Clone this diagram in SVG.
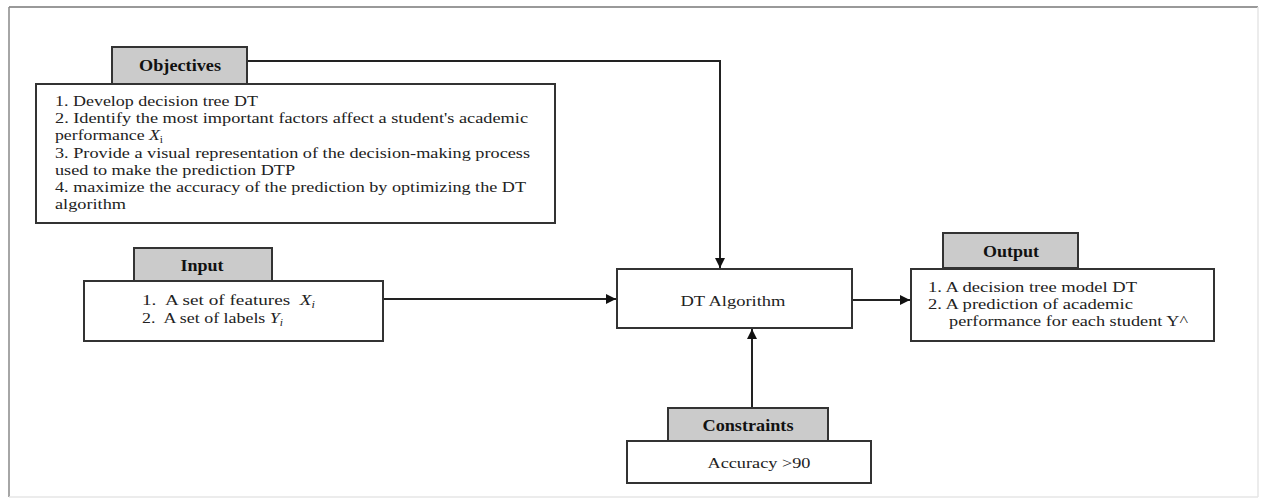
<svg xmlns="http://www.w3.org/2000/svg" width="1264" height="501" viewBox="0 0 1264 501">
<defs>
<style>
.box{fill:#ffffff;stroke:#333333;stroke-width:2}
.tab{fill:#cbcbcb;stroke:#333333;stroke-width:2}
.t{font-family:"Liberation Serif","Times New Roman",serif;font-size:15.5px;fill:#222222;white-space:pre}
.h{font-family:"Liberation Serif","Times New Roman",serif;font-size:16px;font-weight:bold;fill:#111111;text-anchor:middle}
.c{fill:none;stroke:#222222;stroke-width:2}
</style>
<marker id="arr" viewBox="0 0 10 10" refX="10" refY="5" markerWidth="10" markerHeight="10" markerUnits="userSpaceOnUse" orient="auto">
<path d="M0,0 L10,5 L0,10 Z" fill="#111111"/>
</marker>
</defs>
<rect x="0" y="0" width="1264" height="501" fill="#ffffff"/>
<g id="frame">
<line x1="9" y1="7" x2="1258" y2="7" stroke="#777777" stroke-width="1.5"/>
<line x1="9" y1="7" x2="9" y2="497" stroke="#888888" stroke-width="1.5"/>
<line x1="1258" y1="7" x2="1258" y2="497" stroke="#e6e6e6" stroke-width="1.5"/>
<line x1="9" y1="497" x2="1258" y2="497" stroke="#e6e6e6" stroke-width="1.5"/>
</g>
<g id="connectors">
<polyline class="c" points="247,61 720,61 720,268" marker-end="url(#arr)"/>
<line class="c" x1="383" y1="299" x2="616" y2="299" marker-end="url(#arr)"/>
<line class="c" x1="852" y1="300" x2="910" y2="300" marker-end="url(#arr)"/>
<line class="c" x1="752" y1="408" x2="752" y2="329" marker-end="url(#arr)"/>
</g>
<g id="objectives">
<rect class="tab" x="112" y="47" width="135" height="37"/>
<text class="h" x="180" y="71" textLength="82" lengthAdjust="spacingAndGlyphs">Objectives</text>
<rect class="box" x="36" y="84" width="519" height="139"/>
<text class="t" x="55" y="106" textLength="203" lengthAdjust="spacingAndGlyphs">1. Develop decision tree DT</text>
<text class="t" x="55" y="123" textLength="473" lengthAdjust="spacingAndGlyphs">2. Identify the most important factors affect a student's academic</text>
<text class="t" x="55" y="140" textLength="108" lengthAdjust="spacingAndGlyphs">performance <tspan font-style="italic">X</tspan><tspan font-size="10" dy="3">i</tspan></text>
<text class="t" x="55" y="158" textLength="475" lengthAdjust="spacingAndGlyphs">3. Provide a visual representation of the decision-making process</text>
<text class="t" x="55" y="175" textLength="240" lengthAdjust="spacingAndGlyphs">used to make the prediction DTP</text>
<text class="t" x="55" y="192" textLength="471" lengthAdjust="spacingAndGlyphs">4. maximize the accuracy of the prediction by optimizing the DT</text>
<text class="t" x="55" y="209" textLength="71" lengthAdjust="spacingAndGlyphs">algorithm</text>
</g>
<g id="input">
<rect class="tab" x="134" y="248" width="138" height="33"/>
<text class="h" x="202" y="271" textLength="43" lengthAdjust="spacingAndGlyphs">Input</text>
<rect class="box" x="84" y="281" width="299" height="60"/>
<text class="t" x="142" y="305" textLength="173" lengthAdjust="spacingAndGlyphs">1.  A set of features  <tspan font-style="italic">X</tspan><tspan font-size="10" font-style="italic" dy="3">i</tspan></text>
<text class="t" x="142" y="323" textLength="141" lengthAdjust="spacingAndGlyphs">2.  A set of labels <tspan font-style="italic">Y</tspan><tspan font-size="10" font-style="italic" dy="3">i</tspan></text>
</g>
<g id="dt-algorithm">
<rect class="box" x="617" y="269" width="235" height="59"/>
<text class="t" x="733" y="306" text-anchor="middle" textLength="105" lengthAdjust="spacingAndGlyphs">DT Algorithm</text>
</g>
<g id="output">
<rect class="tab" x="943" y="233" width="135" height="35"/>
<text class="h" x="1011" y="257" textLength="56" lengthAdjust="spacingAndGlyphs">Output</text>
<rect class="box" x="911" y="269" width="303" height="72"/>
<text class="t" x="928" y="292" textLength="209" lengthAdjust="spacingAndGlyphs">1. A decision tree model DT</text>
<text class="t" x="928" y="309" textLength="205" lengthAdjust="spacingAndGlyphs">2. A prediction of academic</text>
<text class="t" x="949" y="326" textLength="239" lengthAdjust="spacingAndGlyphs">performance for each student Y^</text>
</g>
<g id="constraints">
<rect class="tab" x="668" y="408" width="160" height="33"/>
<text class="h" x="748" y="431" textLength="91" lengthAdjust="spacingAndGlyphs">Constraints</text>
<rect class="box" x="627" y="441" width="244" height="42"/>
<text class="t" x="759" y="468" text-anchor="middle" textLength="103" lengthAdjust="spacingAndGlyphs">Accuracy &gt;90</text>
</g>
</svg>
